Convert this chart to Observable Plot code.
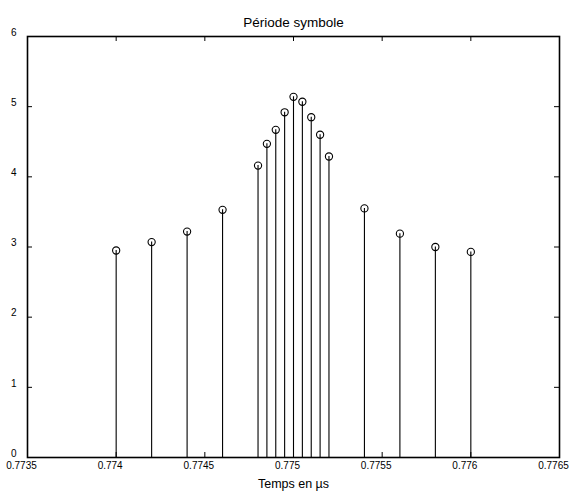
<!DOCTYPE html>
<html>
<head>
<meta charset="utf-8">
<script src="https://cdn.jsdelivr.net/npm/d3@7"></script>
<script src="https://cdn.jsdelivr.net/npm/@observablehq/plot@0.6"></script>
<style>
  body { margin: 0; background: #fff; }
  svg { font-family: "Liberation Sans", Arial, sans-serif; }
</style>
</head>
<body>
<div id="chart"></div>
<script>
const times = [0.7740, 0.7742, 0.7744, 0.7746, 0.7748, 0.77485, 0.7749, 0.77495, 0.7750,
               0.77505, 0.7751, 0.77515, 0.7752, 0.7754, 0.7756, 0.7758, 0.7760];
const values = [2.95, 3.07, 3.22, 3.53, 4.16, 4.47, 4.67, 4.92, 5.14,
                5.07, 4.85, 4.60, 4.29, 3.55, 3.19, 3.00, 2.93];
const xTicks = [0.7735, 0.774, 0.7745, 0.775, 0.7755, 0.776, 0.7765];
const xTickLabels = ["0.7735", "0.774", "0.7745", "0.775", "0.7755", "0.776", "0.7765"];
const yTicks = [0, 1, 2, 3, 4, 5, 6];
const title = "Période symbole";
const xLabel = "Temps en µs";

const data = times.map((t, i) => ({t, v: values[i]}));

const W = 569, H = 492;
const mL = 27, mR = 10, mT = 36, mB = 35;
const pw = W - mL - mR, ph = H - mT - mB;
const tk = 5;

const chart = Plot.plot({
  width: W, height: H,
  marginLeft: mL, marginRight: mR, marginTop: mT, marginBottom: mB,
  style: {fontFamily: '"Liberation Sans", Arial, sans-serif', background: "white", color: "black"},
  x: {domain: [0.7735, 0.7765], axis: null},
  y: {domain: [0, 6], axis: null},
  marks: [
    Plot.ruleX(data, {x: "t", y1: 0, y2: "v", stroke: "black", strokeWidth: 1.1}),
    Plot.dot(data, {x: "t", y: "v", r: 3.6, stroke: "black", fill: "none", strokeWidth: 1.1}),
    // inward ticks
    Plot.tickX(xTicks, {x: d => d, insetTop: ph - tk, stroke: "black", strokeWidth: 1}),
    Plot.tickX(xTicks, {x: d => d, insetBottom: ph - tk, stroke: "black", strokeWidth: 1}),
    Plot.tickY(yTicks, {y: d => d, insetRight: pw - tk, stroke: "black", strokeWidth: 1}),
    Plot.tickY(yTicks, {y: d => d, insetLeft: pw - tk, stroke: "black", strokeWidth: 1}),
    Plot.frame({stroke: "black", strokeWidth: 1.6}),
    // tick labels
    Plot.text(xTicks, {x: d => d, text: (d, i) => xTickLabels[i], frameAnchor: "bottom", lineAnchor: "top", dx: -6, dy: 4, fontSize: 10, fill: "black"}),
    Plot.text(yTicks, {y: d => d, text: d => String(d), frameAnchor: "left", textAnchor: "end", dx: -11, dy: -4, fontSize: 10, fill: "black"}),
    // titles
    Plot.text([title], {frameAnchor: "top", lineAnchor: "bottom", dy: -10, fontSize: 13.5, fill: "black"}),
    Plot.text([xLabel], {frameAnchor: "bottom", lineAnchor: "middle", dy: 26, fontSize: 12.5, fill: "black"})
  ]
});
document.getElementById("chart").appendChild(chart);
</script>
</body>
</html>
